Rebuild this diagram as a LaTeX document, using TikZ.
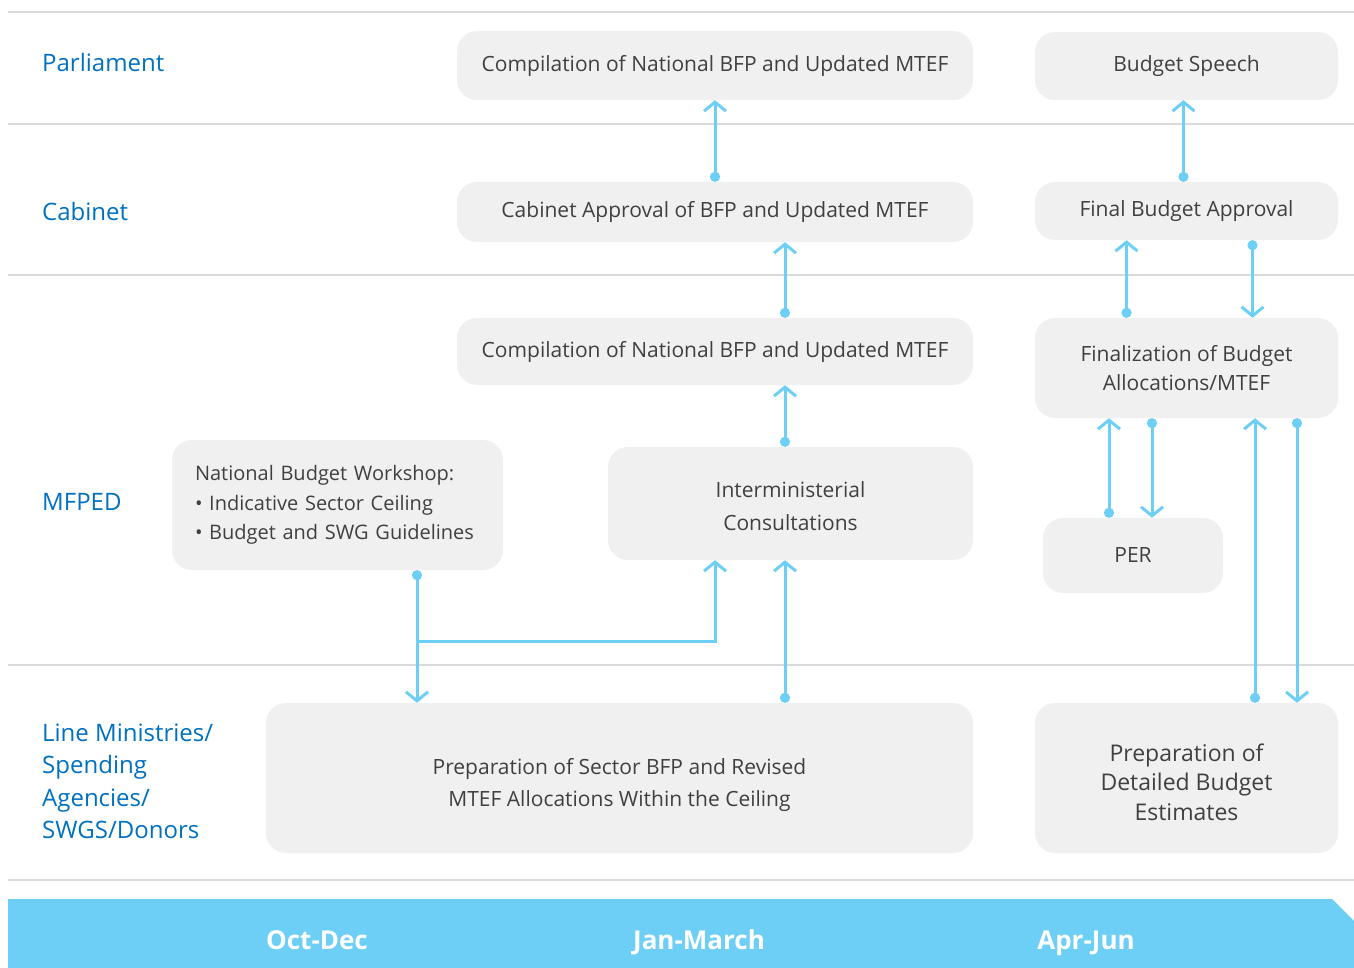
\documentclass[tikz,border=0pt]{standalone}
\usepackage{fontspec}
\setmainfont{Open Sans}
\usetikzlibrary{calc, arrows.meta, positioning}
\definecolor{rowblue}{RGB}{0,112,192}
\definecolor{flowsky}{RGB}{109,207,246}
\definecolor{boxgray}{RGB}{240,240,240}
\definecolor{rulegray}{RGB}{217,217,217}
\definecolor{textgray}{RGB}{64,64,64}

\begin{document}
\begin{tikzpicture}[x=1pt, y=-1pt]
  % Styles for boxes, labels and links
  \tikzset{stage/.style={fill=boxgray, rounded corners=20pt, text=textgray, align=center, inner sep=0pt, font=\fontsize{21}{33}\selectfont}}
  \tikzset{rowlabel/.style={anchor=west, inner xsep=0pt, text=rowblue, align=left, font=\fontsize{24}{32.5}\selectfont}}
  \tikzset{period/.style={anchor=base, text=white, font=\bfseries\fontsize{26}{30}\selectfont}}
  \tikzset{link/.style={draw=flowsky, line width=3pt, {Circle[length=10pt]}-{Straight Barb[length=9pt,width=22pt]}}}
  \tikzset{feed/.style={draw=flowsky, line width=3pt, -{Straight Barb[length=9pt,width=22pt]}}}
  \tikzset{rule/.style={draw=rulegray, line width=1.2pt}}

  \useasboundingbox (0,0) rectangle (1354,968);

  % Row rules
  \foreach \y in {12,124,275,665,880} \draw[rule] (8,\y) -- (1354,\y);

  % Row labels
  \node[rowlabel] (parl) at (42,63) {Parliament};
  \node[rowlabel] (cab) at (42,212) {Cabinet};
  \node[rowlabel] (mfped) at (42,502) {MFPED};
  \node[rowlabel] (line) at (42,781.5) {Line Ministries/\\Spending\\Agencies/\\SWGS/Donors};

  % Parliament and Cabinet
  \node[stage, minimum width=516, minimum height=69] (natA) at (715,65.5) {Compilation of National BFP and Updated MTEF};
  \node[stage, minimum width=303, minimum height=68] (speech) at (1186.5,66) {Budget Speech};
  \node[stage, minimum width=516, minimum height=60] (cabapp) at (715,212) {Cabinet Approval of BFP and Updated MTEF};
  \node[stage, minimum width=303, minimum height=58] (final) at (1186.5,211) {Final Budget Approval};

  % MFPED
  \node[stage, minimum width=516, minimum height=67] (natB) at (715,351.5) {Compilation of National BFP and Updated MTEF};
  \node[stage, minimum width=303, minimum height=100, font=\fontsize{21}{29}\selectfont] (alloc) at (1186.5,368) {Finalization of Budget\\Allocations/MTEF};
  \node[stage, align=left, text width=285, inner xsep=23, minimum height=130, font=\fontsize{20}{29.5}\selectfont] (workshop) at (337.5,505) {National Budget Workshop:\\\textbullet\ Indicative Sector Ceiling\\\textbullet\ Budget and SWG Guidelines};
  \node[stage, minimum width=365, minimum height=113, text height=54] (consult) at (790.5,503.5) {Interministerial\\Consultations};
  \node[stage, minimum width=180, minimum height=75] (per) at (1133,555.5) {PER};

  % Line Ministries
  \node[stage, minimum width=707, minimum height=150, text height=62, font=\fontsize{21}{32}\selectfont] (sector) at (619.5,778) {Preparation of Sector BFP and Revised\\MTEF Allocations Within the Ceiling};
  \node[stage, minimum width=303, minimum height=150, text height=85, font=\fontsize{23}{29.5}\selectfont] (detail) at (1186.5,778) {Preparation of\\Detailed Budget\\Estimates};

  % Links
  \draw[link] (cabapp.north) -- (natA.south);
  \draw[link] ($(final.north)+(-3,0)$) -- ($(speech.south)+(-3,0)$);
  \draw[link] ($(natB.north)+(70,0)$) -- ($(cabapp.south)+(70,0)$);
  \draw[link] ($(alloc.north)+(-60,0)$) -- ($(final.south)+(-60,0)$);
  \draw[link] ($(final.south)+(66,0)$) -- ($(alloc.north)+(66,0)$);
  \draw[link] ($(consult.north)+(-5.5,0)$) -- ($(natB.south)+(70,0)$);
  \draw[link] ($(per.north)+(-24,0)$) -- ($(alloc.south)+(-77.5,0)$);
  \draw[link] ($(alloc.south)+(-34.5,0)$) -- ($(per.north)+(19,0)$);
  \draw[link] ($(detail.north)+(68.5,0)$) -- ($(alloc.south)+(68.5,0)$);
  \draw[link] ($(alloc.south)+(110.5,0)$) -- ($(detail.north)+(110.5,0)$);
  \draw[link] ($(workshop.south)+(79.5,0)$) -- ($(sector.north)+(-202.5,0)$);
  \coordinate (split) at ($(workshop.south)+(79.5,71)$);
  \draw[feed] (split) -| ($(consult.south)+(-75.5,0)$);
  \draw[link] ($(sector.north)+(165.5,0)$) -- ($(consult.south)+(-5.5,0)$);

  % Time banner
  \fill[flowsky] (8,899) -- (1332,899) -- (1354,921) -- (1354,968) -- (8,968) -- cycle;
  \node[period] (q1) at (317,949) {Oct-Dec};
  \node[period] (q2) at (699,949) {Jan-March};
  \node[period] (q3) at (1086,949) {Apr-Jun};
\end{tikzpicture}
\end{document}
